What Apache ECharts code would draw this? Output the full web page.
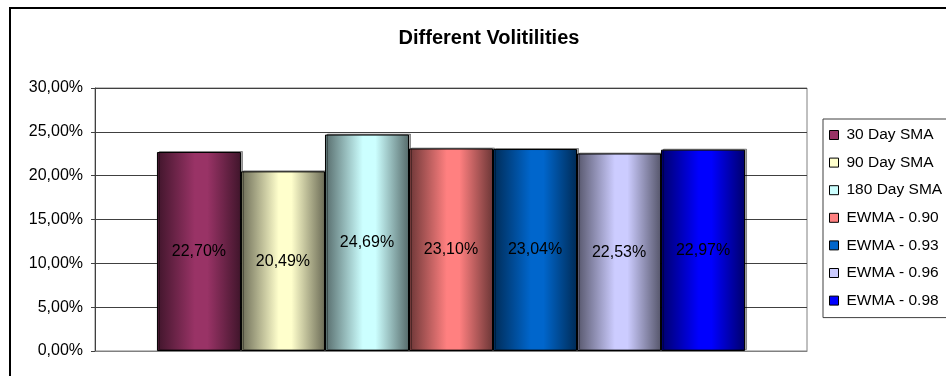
<!DOCTYPE html>
<html>
<head>
<meta charset="utf-8">
<script src="https://cdn.jsdelivr.net/npm/echarts@6/dist/echarts.min.js"></script>
<style>
  html, body { margin: 0; padding: 0; background: #fff; }
  #chart { width: 946px; height: 376px; }
</style>
</head>
<body>
<div id="chart"></div>
<script>
// Volatility estimates (percent), one bar per method
const seriesNames = ['30 Day SMA', '90 Day SMA', '180 Day SMA', 'EWMA - 0.90', 'EWMA - 0.93', 'EWMA - 0.96', 'EWMA - 0.98'];
const values = [22.70, 20.49, 24.69, 23.10, 23.04, 22.53, 22.97];
const baseColors = ['#993366', '#FFFFCC', '#CCFFFF', '#FF8080', '#0066CC', '#CCCCFF', '#0000FF'];
const categories = [''];
const yTicks = { min: 0, max: 30, step: 5 };

const FONT = '"Liberation Sans", Arial, sans-serif';

function pct(v) {
  return v.toFixed(2).replace('.', ',') + '%';
}

function shade(hex, f) {
  const n = parseInt(hex.slice(1), 16);
  const r = Math.round(((n >> 16) & 255) * f);
  const g = Math.round(((n >> 8) & 255) * f);
  const b = Math.round((n & 255) * f);
  return 'rgb(' + r + ',' + g + ',' + b + ')';
}

// Horizontal "cylinder" shading: dark edges, bright band left of centre
function barFill(hex) {
  return new echarts.graphic.LinearGradient(0, 0, 1, 0, [
    { offset: 0, color: shade(hex, 0.42) },
    { offset: 0.45, color: hex },
    { offset: 0.6, color: hex },
    { offset: 1, color: shade(hex, 0.42) }
  ]);
}

const series = seriesNames.map((name, i) => ({
  name: name,
  type: 'bar',
  barGap: '0%',
  barCategoryGap: '17.4%',
  data: [values[i]],
  itemStyle: {
    color: barFill(baseColors[i]),
    borderColor: '#000',
    borderWidth: 1,
    shadowColor: 'rgba(0,0,0,0.35)',
    shadowOffsetX: 2,
    shadowOffsetY: -1
  },
  label: {
    show: true,
    position: 'inside',
    color: '#000',
    fontFamily: FONT,
    fontSize: 16,
    formatter: p => pct(p.value)
  },
  emphasis: { disabled: true }
}));

const chart = echarts.init(document.getElementById('chart'), null, { renderer: 'canvas' });
chart.setOption({
  animation: false,
  backgroundColor: '#fff',
  title: {
    text: 'Different Volitilities',
    left: 484,
    top: 23,
    textAlign: 'center',
    textStyle: { fontFamily: FONT, fontWeight: 'bold', fontSize: 20, color: '#000' }
  },
  graphic: [{
    type: 'rect',
    shape: { x: 10, y: 8, width: 1000, height: 500 },
    style: { fill: null, stroke: '#000', lineWidth: 2 },
    z: 100
  }],
  grid: {
    left: 95, right: 139, top: 88, bottom: 25,
    show: true,
    backgroundColor: '#fff',
    borderColor: '#808080',
    borderWidth: 1
  },
  legend: {
    orient: 'vertical',
    left: 823,
    top: 119,
    padding: [8, 40, 9, 6],
    itemGap: 11.6,
    itemWidth: 9,
    itemHeight: 9,
    borderColor: '#404040',
    borderWidth: 1,
    icon: 'rect',
    textStyle: { fontFamily: FONT, fontSize: 15.5, color: '#000', lineHeight: 16, padding: [0, 0, 0, 3] },
    data: seriesNames.map((n, i) => ({
      name: n,
      itemStyle: { color: baseColors[i], borderColor: '#000', borderWidth: 1 }
    }))
  },
  xAxis: {
    type: 'category',
    data: categories,
    axisLine: { show: true, lineStyle: { color: '#808080', width: 1 } },
    axisTick: { show: false },
    axisLabel: { show: false }
  },
  yAxis: {
    type: 'value',
    min: yTicks.min,
    max: yTicks.max,
    interval: yTicks.step,
    axisLine: { show: true, lineStyle: { color: '#404040', width: 1 } },
    axisTick: { show: true, inside: false, length: 4, lineStyle: { color: '#404040' } },
    axisLabel: {
      margin: 12,
      fontFamily: FONT,
      fontSize: 16,
      color: '#000',
      formatter: v => pct(v)
    },
    splitLine: { show: true, lineStyle: { color: '#404040', width: 1 } }
  },
  series: series
});
</script>
</body>
</html>
